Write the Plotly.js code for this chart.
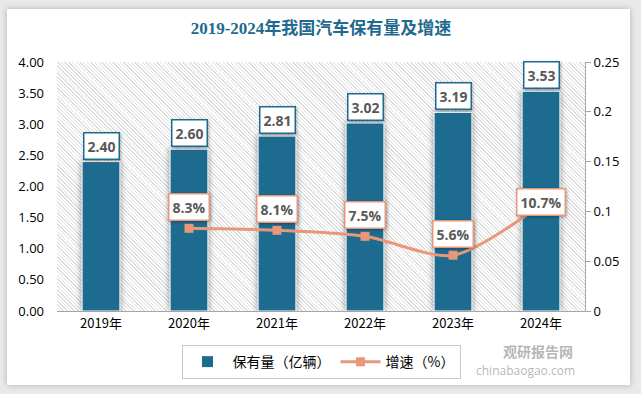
<!DOCTYPE html>
<html><head><meta charset="utf-8">
<script src="https://cdn.plot.ly/plotly-3.0.1.min.js"></script>
<style>
html,body{margin:0;padding:0;width:641px;height:394px;background:#e9e9e9;overflow:hidden}
#card{position:absolute;left:7px;top:9px;width:623px;height:376px;background:#fff;box-shadow:0 0 6px rgba(0,0,0,0.25)}
#hatch{position:absolute;left:57px;top:62px;width:528px;height:249px;
background:repeating-linear-gradient(45deg,#ffffff 0px,#ffffff 1.6px,#dedede 1.6px,#dedede 2.6px)}
#chart{position:absolute;left:0;top:0;width:641px;height:394px}
.barlayer .point path{filter:drop-shadow(0px 0px 3px rgba(0,0,0,0.45))}
.annotation-text-g rect.bg{filter:drop-shadow(1px 1px 1.5px rgba(0,0,0,0.3))}
</style></head>
<body>
<div id="card"></div>
<div id="hatch"></div>
<div id="chart"></div>
<script>
const categories = ['2019年','2020年','2021年','2022年','2023年','2024年'];
const holdings = [2.40, 2.60, 2.81, 3.02, 3.19, 3.53];
const growth = [null, 0.083, 0.081, 0.075, 0.056, 0.107];
const holdingLabels = ['2.40','2.60','2.81','3.02','3.19','3.53'];
const growthLabels = [null, '8.3%', '8.1%', '7.5%', '5.6%', '10.7%'];
const growthShift = [0, 21, 21, 21, 21, 2];

const teal = '#1d6b8f';
const salmon = '#e8977a';
const cjk = '"Noto Sans CJK SC", "Open Sans", sans-serif';

const traces = [
  {type:'bar', name:'保有量（亿辆）', x:categories, y:holdings,
   marker:{color:teal, line:{color:'#ffffff', width:1}}, width:0.43, yaxis:'y'},
  {type:'scatter', mode:'lines+markers', name:'增速（%）', x:categories, y:growth,
   line:{color:salmon, width:3, shape:'spline', smoothing:0.8},
   marker:{symbol:'square', size:9, color:salmon}, yaxis:'y2', connectgaps:false}
];

const annotations = [];
categories.forEach((c,i)=>{
  annotations.push({x:c, y:holdings[i], xref:'x', yref:'y', text:'<b>'+holdingLabels[i]+'</b>',
    showarrow:false, yanchor:'middle', yshift:16,
    font:{family:'"Open Sans", sans-serif', size:14, color:'#595959'},
    bgcolor:'#ffffff', bordercolor:teal, borderwidth:1.5, borderpad:3});
  if (growth[i] !== null) {
    annotations.push({x:c, y:growth[i], xref:'x', yref:'y2', text:'<b>'+growthLabels[i]+'</b>',
      showarrow:false, yanchor:'middle', yshift:growthShift[i],
      font:{family:'"Open Sans", sans-serif', size:14, color:'#595959'},
      bgcolor:'#ffffff', bordercolor:salmon, borderwidth:1.5, borderpad:3});
  }
});
annotations.push({xref:'paper', yref:'paper', x:0.84, xanchor:'left', y:-0.16, yanchor:'middle',
  text:'<b>观研报告网</b>', showarrow:false,
  font:{family:cjk, size:14, color:'rgba(150,150,150,0.7)'}});
annotations.push({xref:'paper', yref:'paper', x:0.79, xanchor:'left', y:-0.24, yanchor:'middle',
  text:'chinabaogao.com', showarrow:false,
  font:{family:'"Open Sans", sans-serif', size:12, color:'rgba(150,150,150,0.7)'}});

const layout = {
  width:641, height:394,
  margin:{l:57, r:56, t:62, b:83},
  paper_bgcolor:'rgba(0,0,0,0)', plot_bgcolor:'rgba(0,0,0,0)',
  title:{text:'<b>2019-2024年我国汽车保有量及增速</b>', x:0.5, xref:'paper', y:0.928, yanchor:'middle',
    font:{family:'"Liberation Serif", "Noto Sans CJK SC", serif', size:17, color:'#1f6a8e'}},
  bargap:0.57,
  xaxis:{type:'category', showline:true, linecolor:'#a6a6a6', linewidth:1, ticks:'',
    tickfont:{family:cjk, size:13, color:'#000'}, showgrid:false},
  yaxis:{range:[0,4], dtick:0.5, tickformat:'.2f', showgrid:false, zeroline:false,
    showline:false, ticks:'', ticklabelstandoff:12,
    tickfont:{family:'"Open Sans", sans-serif', size:13, color:'#000'}},
  yaxis2:{range:[0,0.25], dtick:0.05, overlaying:'y', side:'right', showgrid:false, zeroline:false,
    showline:true, linecolor:'#a6a6a6', ticks:'outside', ticklen:5, tickcolor:'#a6a6a6',
    tickfont:{family:'"Open Sans", sans-serif', size:13, color:'#000'}},
  legend:{orientation:'h', x:0.5, xanchor:'center', y:-0.205, yanchor:'middle',
    bordercolor:'#c8c8c8', borderwidth:1, bgcolor:'#ffffff',
    font:{family:cjk, size:14, color:'#000'}, itemwidth:40, traceorder:'normal'},
  annotations:annotations,
  showlegend:true
};
Plotly.newPlot('chart', traces, layout, {displayModeBar:false, staticPlot:true});
</script>
</body></html>
